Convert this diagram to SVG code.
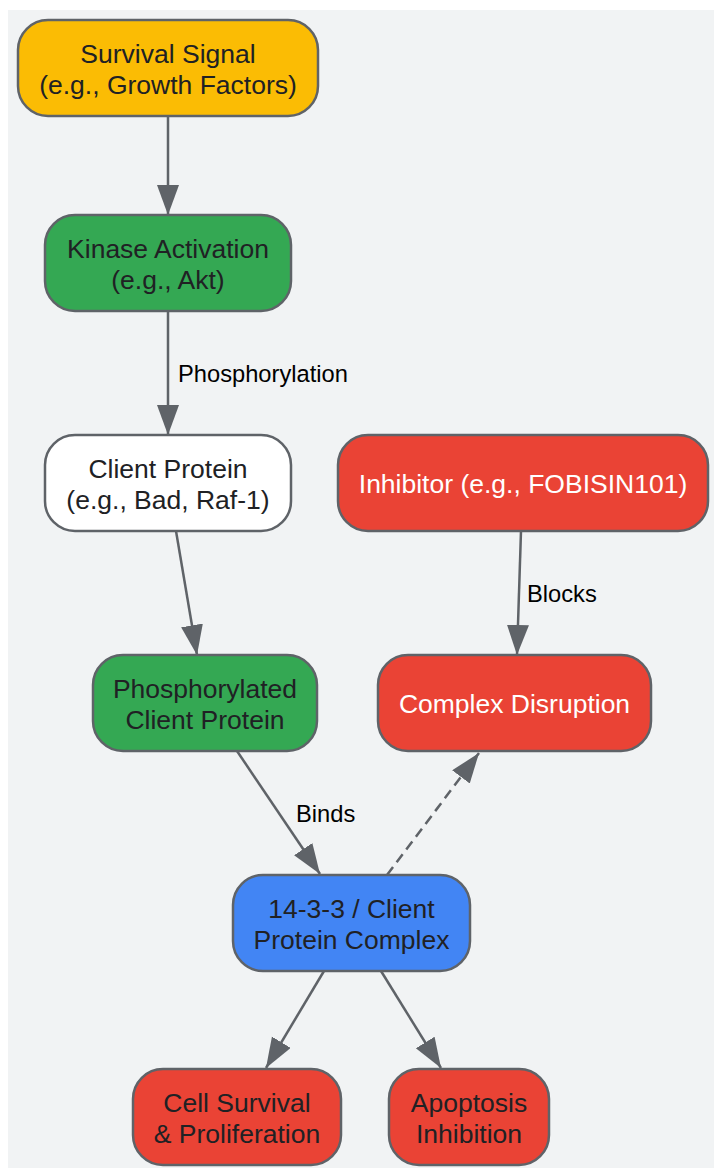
<svg xmlns="http://www.w3.org/2000/svg" width="714" height="1168" viewBox="0 0 714 1168">
<style>
.node rect{stroke:#5f6368;stroke-width:2.5}
.t{font-family:"Liberation Sans",Arial,sans-serif;font-size:26.5px;text-anchor:middle;fill:#202124}
.w{fill:#ffffff}
.el{font-family:"Liberation Sans",Arial,sans-serif;font-size:23.7px;fill:#000000}
.edge{fill:none;stroke:#5f6368;stroke-width:2.5}
.dash{stroke-dasharray:10 6}
</style>
<defs>
<marker id="ah" markerUnits="userSpaceOnUse" markerWidth="32" markerHeight="24" refX="30" refY="11" orient="auto">
<path d="M0,0 L30,11 L0,22 Z" fill="#5f6368"/>
</marker>
</defs>
<rect x="0" y="0" width="714" height="1168" fill="#ffffff"/>
<rect x="8" y="10" width="706" height="1158" fill="#f1f3f4"/>
<g id="connectors">
<path class="edge" d="M168,116 L168,215" marker-end="url(#ah)"/>
<path class="edge" d="M168,311 L168,435" marker-end="url(#ah)"/>
<path class="edge" d="M176,531 L197,655" marker-end="url(#ah)"/>
<path class="edge" d="M521,531 L517,655" marker-end="url(#ah)"/>
<path class="edge" d="M237,751 L320,874" marker-end="url(#ah)"/>
<path class="edge dash" d="M387,875 L479,753" marker-end="url(#ah)"/>
<path class="edge" d="M324,971 L266,1068" marker-end="url(#ah)"/>
<path class="edge" d="M381,971 L441,1068" marker-end="url(#ah)"/>
<text class="el" x="178" y="382">Phosphorylation</text>
<text class="el" x="527" y="602">Blocks</text>
<text class="el" x="296" y="822">Binds</text>
</g>
<g id="survival" class="node">
<rect x="18" y="20" width="300" height="96" rx="30" fill="#fbbc04"/>
<text class="t" x="168" y="62.5">Survival Signal</text>
<text class="t" x="168" y="94">(e.g., Growth Factors)</text>
</g>
<g id="kinase" class="node">
<rect x="45" y="215" width="246" height="96" rx="30" fill="#34a853"/>
<text class="t" x="168" y="257.5">Kinase Activation</text>
<text class="t" x="168" y="289">(e.g., Akt)</text>
</g>
<g id="client" class="node">
<rect x="45" y="435" width="246" height="96" rx="30" fill="#ffffff"/>
<text class="t" x="168" y="477.5">Client Protein</text>
<text class="t" x="168" y="509">(e.g., Bad, Raf-1)</text>
</g>
<g id="inhibitor" class="node">
<rect x="338" y="435" width="370" height="96" rx="30" fill="#ea4335"/>
<text class="t w" x="523" y="493">Inhibitor (e.g., FOBISIN101)</text>
</g>
<g id="phospho" class="node">
<rect x="93" y="655" width="224" height="96" rx="30" fill="#34a853"/>
<text class="t" x="205" y="697.5">Phosphorylated</text>
<text class="t" x="205" y="729">Client Protein</text>
</g>
<g id="disruption" class="node">
<rect x="378" y="655" width="273" height="96" rx="30" fill="#ea4335"/>
<text class="t w" x="514.5" y="713">Complex Disruption</text>
</g>
<g id="complex" class="node">
<rect x="233" y="875" width="237" height="96" rx="30" fill="#4285f4"/>
<text class="t" x="351.5" y="917.5">14-3-3 / Client</text>
<text class="t" x="351.5" y="949">Protein Complex</text>
</g>
<g id="survival-out" class="node">
<rect x="133" y="1069" width="208" height="96" rx="30" fill="#ea4335"/>
<text class="t" x="237" y="1111.5">Cell Survival</text>
<text class="t" x="237" y="1143">&amp; Proliferation</text>
</g>
<g id="apoptosis" class="node">
<rect x="389" y="1069" width="160" height="96" rx="30" fill="#ea4335"/>
<text class="t" x="469" y="1111.5">Apoptosis</text>
<text class="t" x="469" y="1143">Inhibition</text>
</g>
</svg>
